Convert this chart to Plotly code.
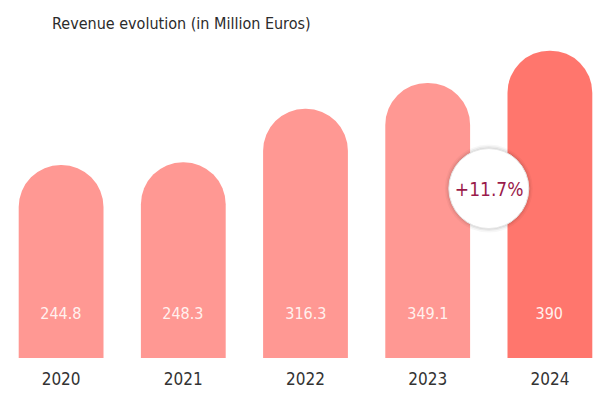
import plotly.graph_objects as go

years = ["2020", "2021", "2022", "2023", "2024"]
revenue = [244.8, 248.3, 316.3, 349.1, 390]
bar_colors = ["#FF9893", "#FF9893", "#FF9893", "#FF9893", "#FF766D"]
title_text = "Revenue evolution (in Million Euros)"

growth = (revenue[-1] / revenue[-2] - 1) * 100
growth_label = f"+{growth:.1f}%"

FONT = "DejaVu Sans, sans-serif"

fig = go.Figure()
fig.add_trace(go.Bar(
    x=years, y=revenue,
    marker=dict(color=bar_colors, cornerradius="50%", line=dict(width=0)),
    hoverinfo="skip",
))

# value labels near base of each bar (x given as category index)
for i, v in enumerate(revenue):
    fig.add_annotation(x=i, y=0, yshift=45, text=f"{v:g}", showarrow=False,
                       xref="x", yref="paper", yanchor="middle",
                       font=dict(family=FONT, size=16, color="#FFF1EE"))

# growth bubble between the last two bars
cy = 215
for r, op in [(44, 0.03), (42.5, 0.05), (41, 0.07)]:
    fig.add_shape(type="circle", xref="x", yref="y", xsizemode="pixel", ysizemode="pixel",
                  xanchor=3.5, yanchor=cy, x0=-r, x1=r, y0=-r, y1=r,
                  fillcolor=f"rgba(0,0,0,{op})", line=dict(width=0), layer="above")
fig.add_shape(type="circle", xref="x", yref="y", xsizemode="pixel", ysizemode="pixel",
              xanchor=3.5, yanchor=cy, x0=-40, x1=40, y0=-40, y1=40,
              fillcolor="#FFFFFF", line=dict(color="#E6E6E6", width=1), layer="above")
fig.add_annotation(x=3.5, y=cy, text=growth_label, showarrow=False, xref="x", yref="y",
                   font=dict(family=FONT, size=19, color="#9A1A4A"))

fig.update_layout(
    width=611, height=393,
    margin=dict(l=0, r=0, t=27, b=35),
    paper_bgcolor="white", plot_bgcolor="white",
    bargap=0.306,
    showlegend=False,
    title=dict(text=title_text, x=52/611, xanchor="left", xref="paper",
               y=1 - 23/393, yanchor="middle", yref="container",
               font=dict(family=FONT, size=16, color="#2B2B2B")),
    xaxis=dict(type="category", range=[-0.5, 4.5], showgrid=False, showline=False,
               zeroline=False, ticks="", ticklabelstandoff=9,
               tickfont=dict(family=FONT, size=17, color="#333333")),
    yaxis=dict(range=[0, 420], visible=False, showgrid=False, zeroline=False),
)

post = (
    "document.body.style.margin='0';document.body.style.padding='0';"
    "var st=document.createElement('style');"
    "st.textContent='.main-svg text{font-stretch:condensed !important;}';"
    "document.head.appendChild(st);"
    "var gd=document.getElementById('{plot_id}');"
    "Plotly.redraw(gd);"
)
fig.write_html("out.html", config={"displayModeBar": False}, post_script=post)
